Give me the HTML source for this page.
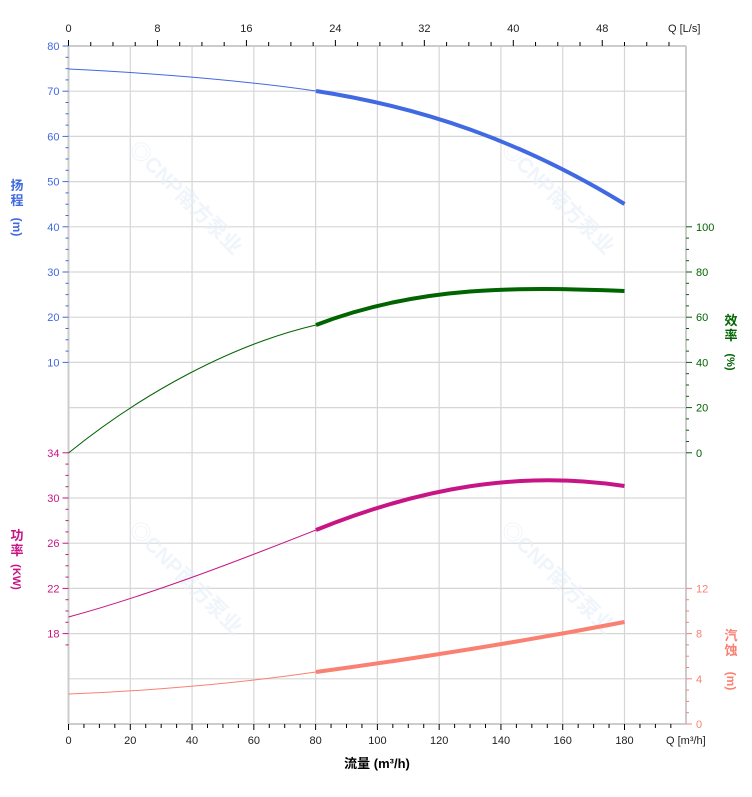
<!DOCTYPE html>
<html><head><meta charset="utf-8"><style>
body{margin:0;background:#fff;}
svg{display:block;font-family:"Liberation Sans","Noto Sans CJK SC",sans-serif;}
</style></head><body>
<svg id="s" width="752" height="797" viewBox="0 0 752 797" xmlns="http://www.w3.org/2000/svg">
<g id="grid"></g>
<g id="wm" fill="#e6eef8" font-size="21" font-weight="bold" opacity="0.6">
<text transform="translate(128,150) rotate(45)">◎CNP南方泵业</text>
<text transform="translate(500,150) rotate(45)">◎CNP南方泵业</text>
<text transform="translate(128,530) rotate(45)">◎CNP南方泵业</text>
<text transform="translate(500,530) rotate(45)">◎CNP南方泵业</text>
</g>
<g id="ticks"></g>
<g fill="none" stroke-linecap="butt">
<path d="M68.5,69 C150,73 240,80 316,91" stroke="#4169e1" stroke-width="1"/>
<path d="M316,91 C420,107 520,140 624.5,204" stroke="#4169e1" stroke-width="4"/>
<path d="M68.5,453 C140,395 230,345 316,325" stroke="#006400" stroke-width="1"/>
<path d="M316,325 C420,285 520,287 624.5,291" stroke="#006400" stroke-width="4"/>
<path d="M68.5,617 C150,595 240,560 316,530" stroke="#c71585" stroke-width="1"/>
<path d="M316,530 C420,488 520,470 624.5,486" stroke="#c71585" stroke-width="4"/>
<path d="M68.5,694 C150,691 240,683 316,672" stroke="#fa8072" stroke-width="1"/>
<path d="M316,672 C420,658 520,642 624.5,622" stroke="#fa8072" stroke-width="4"/>
</g>
<g id="labels" font-size="11"></g>
<g font-size="13" font-weight="bold">
<text x="17" y="190" fill="#4169e1" text-anchor="middle">扬</text>
<text x="17" y="205" fill="#4169e1" text-anchor="middle">程</text>
<text transform="translate(13,227) rotate(90)" fill="#4169e1" text-anchor="middle" font-size="12">(m)</text>
<text x="17" y="540" fill="#c71585" text-anchor="middle">功</text>
<text x="17" y="555" fill="#c71585" text-anchor="middle">率</text>
<text transform="translate(13,577) rotate(90)" fill="#c71585" text-anchor="middle" font-size="11">(KW)</text>
<text x="731" y="325" fill="#006400" text-anchor="middle">效</text>
<text x="731" y="340" fill="#006400" text-anchor="middle">率</text>
<text transform="translate(727,362) rotate(90)" fill="#006400" text-anchor="middle" font-size="11">(%)</text>
<text x="731" y="640" fill="#fa8072" text-anchor="middle">汽</text>
<text x="731" y="655" fill="#fa8072" text-anchor="middle">蚀</text>
<text transform="translate(727,681) rotate(90)" fill="#fa8072" text-anchor="middle" font-size="12">(m)</text>
<text x="377" y="768" fill="#000" text-anchor="middle">流量 (m³/h)</text>
</g>
</svg>
<script>
var NS="http://www.w3.org/2000/svg";
function el(p,t,a,txt){var e=document.createElementNS(NS,t);for(var k in a)e.setAttribute(k,a[k]);if(txt!==undefined)e.textContent=txt;document.getElementById(p).appendChild(e);}
var X0=68.5,XR=686,Y0=46,YB=724,px=3.0889,dy=45.2;
for(var i=0;i<=15;i++){var y=Y0+i*dy;el("grid","line",{x1:X0,x2:XR,y1:y,y2:y,stroke:"#d6d6d6","stroke-width":1.2});}
for(var q=20;q<=180;q+=20){var x=X0+q*px;el("grid","line",{x1:x,x2:x,y1:Y0,y2:YB,stroke:"#d6d6d6","stroke-width":1.2});}
el("grid","line",{x1:X0,x2:X0,y1:Y0,y2:YB,stroke:"#ccc","stroke-width":2});
el("grid","line",{x1:XR,x2:XR,y1:Y0,y2:YB,stroke:"#ccc","stroke-width":2});
el("grid","line",{x1:X0,x2:XR,y1:Y0,y2:Y0,stroke:"#ccc","stroke-width":2});
el("grid","line",{x1:X0,x2:XR,y1:YB,y2:YB,stroke:"#ccc","stroke-width":2});
for(var q=0;q<=195;q+=5){var x=X0+q*px,maj=q%20==0;el("ticks","line",{x1:x,x2:x,y1:YB,y2:YB+(maj?6:4),stroke:"#000"});
 if(maj&&q<=180)el("labels","text",{x:x,y:744,"text-anchor":"middle",fill:"#222"},q);}
el("labels","text",{x:666,y:744,fill:"#222"},"Q [m³/h]");
for(var l=0;l<=54;l+=2){var x=X0+l*3.6*px;if(x>XR)break;var maj=l%8==0;el("ticks","line",{x1:x,x2:x,y1:Y0,y2:Y0-(maj?6:4),stroke:"#000"});
 if(maj&&l<=48)el("labels","text",{x:x,y:32,"text-anchor":"middle",fill:"#222"},l);}
el("labels","text",{x:668,y:32,fill:"#222"},"Q [L/s]");
for(var h=80;h>=10;h-=2.5){var y=Y0+(80-h)/10*dy,maj=h%10==0;el("ticks","line",{x1:X0,x2:X0-(maj?6:3),y1:y,y2:y,stroke:"#4169e1"});
 if(maj)el("labels","text",{x:X0-9,y:y+4,"text-anchor":"end",fill:"#4169e1"},h);}
for(var p=34;p>=17;p-=1){var y=Y0+9*dy+(34-p)/4*dy,maj=(34-p)%4==0;el("ticks","line",{x1:X0,x2:X0-(maj?6:3),y1:y,y2:y,stroke:"#c71585"});
 if(maj)el("labels","text",{x:X0-9,y:y+4,"text-anchor":"end",fill:"#c71585"},p);}
for(var e=0;e<=100;e+=5){var y=Y0+9*dy-e/20*dy,maj=e%20==0;el("ticks","line",{x1:XR,x2:XR+(maj?6:3),y1:y,y2:y,stroke:"#006400"});
 if(maj)el("labels","text",{x:XR+10,y:y+4,fill:"#006400"},e);}
for(var n=0;n<=12;n+=1){var y=YB-n/4*dy,maj=n%4==0;el("ticks","line",{x1:XR,x2:XR+(maj?6:3),y1:y,y2:y,stroke:"#fa8072"});
 if(maj)el("labels","text",{x:XR+10,y:y+4,fill:"#fa8072"},n);}
</script>
</body></html>
